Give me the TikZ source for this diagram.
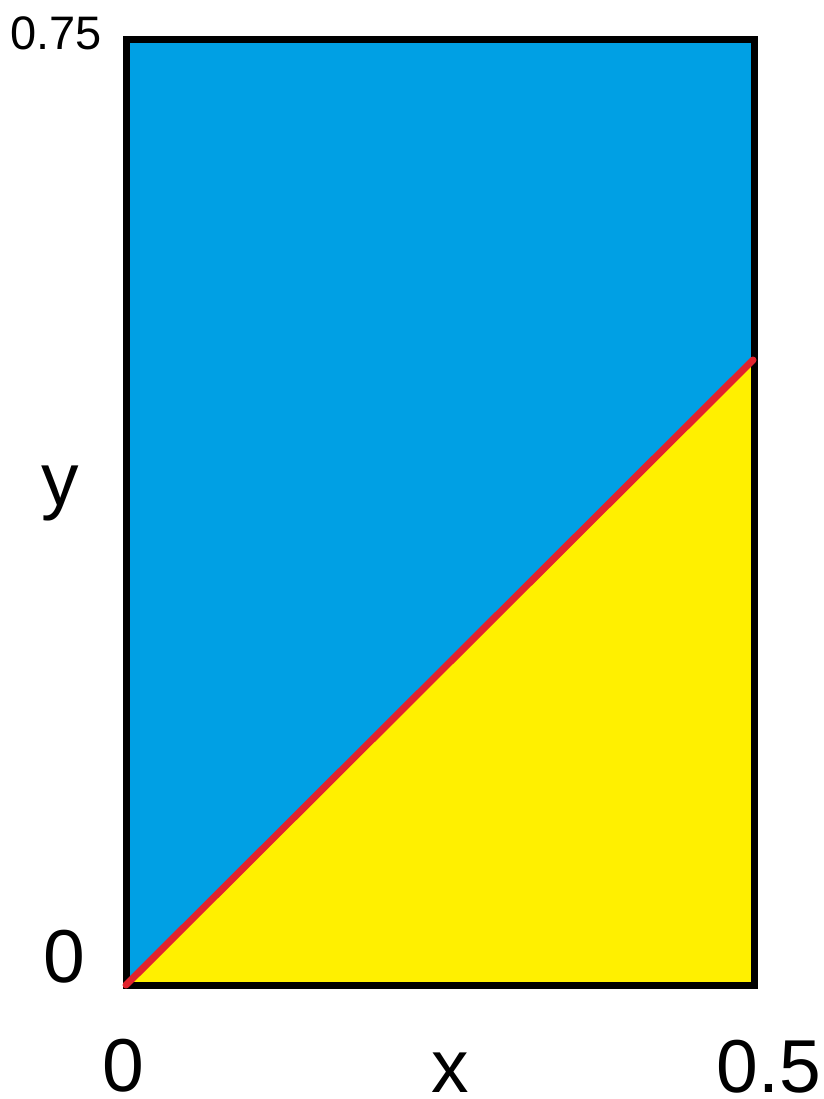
\documentclass[tikz,border=0pt]{standalone}
\usepackage{fontspec}
\setmainfont{Liberation Sans}
\definecolor{skyblue}{RGB}{0,160,228}
\definecolor{lemon}{RGB}{255,240,0}
\definecolor{redline}{RGB}{225,35,45}
\begin{document}
\begin{tikzpicture}[x=1pt,y=-1pt,
  biglabel/.style={inner sep=0pt,font=\fontsize{75}{75}\selectfont},
  smalllabel/.style={inner sep=0pt,font=\fontsize{47}{47}\selectfont}]
\useasboundingbox (0,0) rectangle (823,1099);
\coordinate (bl) at (126,985);
\coordinate (br) at (754,985);
\coordinate (tr) at (754,40);
\coordinate (tl) at (126,40);
\coordinate (re) at (753,360);
\fill[skyblue] (bl) rectangle (tr);
\fill[lemon] (bl) -- (br) -- (re) -- cycle;
\draw[black,line width=7pt] (bl) -- (br) -- (tr) -- (tl) -- cycle;
\draw[redline,line width=7pt,line cap=round] (bl) -- (re);
\node[smalllabel,anchor=base west] (ytop) at (10,50) {0.75};
\node[biglabel,anchor=base] (ylab) at (60,505) {y};
\node[biglabel,anchor=base] (yzero) at (64,982) {0};
\node[biglabel,anchor=base] (xzero) at (123,1091) {0};
\node[biglabel,anchor=base] (xlab) at (450,1092) {x};
\node[biglabel,anchor=base] (xhalf) at (769,1092) {0.5};
\end{tikzpicture}
\end{document}
